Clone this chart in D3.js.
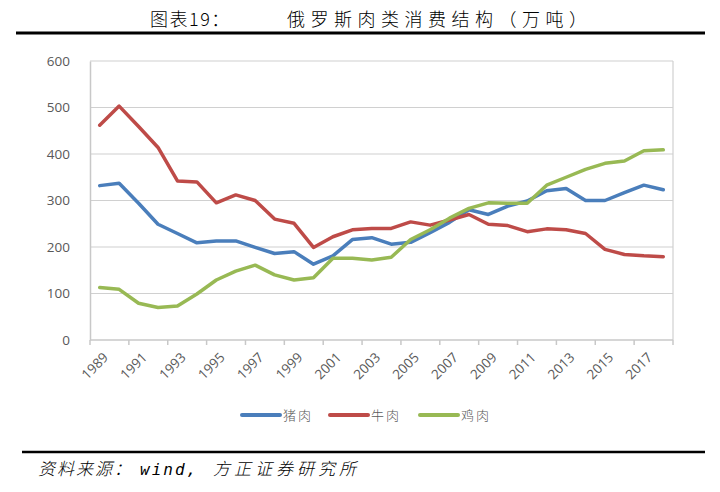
<!DOCTYPE html>
<html>
<head>
<meta charset="utf-8">
<script src="https://cdn.jsdelivr.net/npm/d3@7"></script>
<style>
  body { margin: 0; background: #fff; }
  svg { display: block; }
</style>
</head>
<body>
<svg id="chart" width="720" height="492"></svg>
<script>
const years = d3.range(1989, 2019).map(String);
const pork = [332,337,294,249,229,209,213,213,199,186,190,163,181,216,220,206,210,231,253,280,270,288,299,321,326,300,300,317,333,323];
const beef = [462,503,459,414,342,340,295,312,300,260,251,199,222,237,240,240,254,247,258,270,249,246,233,239,237,229,195,184,181,179];
const chicken = [113,109,79,70,73,99,129,148,161,140,129,134,176,176,172,178,216,237,262,283,295,294,294,333,350,367,380,385,407,409];
const seriesNames = ["猪肉", "牛肉", "鸡肉"];
const seriesColors = ["#4a7ebb", "#be4b48", "#98b954"];
const yTicks = [0, 100, 200, 300, 400, 500, 600];
const xLabelYears = years.filter((d, i) => i % 2 === 0);
const titleText = "图表19：";
const titleMain = "俄罗斯肉类消费结构（万吨）";
const sourceParts = ["资料来源：", "wind,", "方正证券研究所"];

const series = [pork, beef, chicken].map((vals, i) => ({ name: seriesNames[i], color: seriesColors[i], values: vals }));

const svg = d3.select("#chart");
const pLeft = 90, pRight = 673, pTop = 61, pBottom = 340;

const x = d3.scaleBand().domain(years).range([pLeft, pRight]).paddingInner(0).paddingOuter(0);
const y = d3.scaleLinear().domain([0, 600]).range([pBottom, pTop]);

const cjk = "'Noto Sans CJK SC', 'Noto Sans', sans-serif";
const latin = "'Open Sans', 'Liberation Sans', sans-serif";

// Title
svg.append("text").attr("x", 150).attr("y", 26)
  .style("font-family", cjk).style("font-size", "18px").style("font-weight", "300")
  .style("letter-spacing", "1.5px").attr("fill", "#000")
  .text(titleText);
svg.append("text").attr("x", 287).attr("y", 26)
  .style("font-family", cjk).style("font-size", "18px").style("font-weight", "300")
  .style("letter-spacing", "5.5px").attr("fill", "#000")
  .text(titleMain);
svg.append("line").attr("x1", 16).attr("x2", 705).attr("y1", 33).attr("y2", 33)
  .attr("stroke", "#000").attr("stroke-width", 3);

// Gridlines
svg.append("g").selectAll("line").data(yTicks.filter(d => d > 0)).join("line")
  .attr("x1", pLeft).attr("x2", pRight)
  .attr("y1", d => y(d)).attr("y2", d => y(d))
  .attr("stroke", "#d0d0d0").attr("stroke-width", 1.2);

// Plot border right
svg.append("line").attr("x1", pRight).attr("x2", pRight).attr("y1", pTop).attr("y2", pBottom)
  .attr("stroke", "#d0d0d0").attr("stroke-width", 1.2);

// Y axis
const yAxis = d3.axisLeft(y).tickValues(yTicks).tickSize(0).tickPadding(20);
const gy = svg.append("g").attr("transform", `translate(${pLeft},0)`).call(yAxis);
gy.select(".domain").attr("stroke", "#c8c8c8").attr("stroke-width", 1.5);
gy.selectAll("text").style("font-family", latin)
  .style("font-size", "13.5px").attr("fill", "#595959");

// X axis ticks (every 2 categories, at band boundaries)
const tickPositions = d3.range(0, years.length + 1, 2).map(i => pLeft + i * x.step());
const gx = svg.append("g");
gx.append("line").attr("x1", pLeft).attr("x2", pRight).attr("y1", pBottom).attr("y2", pBottom)
  .attr("stroke", "#c8c8c8").attr("stroke-width", 1.5);
gx.selectAll("line.tick").data(tickPositions).join("line").attr("class", "tick")
  .attr("x1", d => d).attr("x2", d => d).attr("y1", pBottom).attr("y2", pBottom + 5)
  .attr("stroke", "#c8c8c8").attr("stroke-width", 1.5);
gx.selectAll("text").data(xLabelYears).join("text")
  .attr("transform", d => `translate(${x(d) + x.bandwidth() / 2 + 6},${pBottom + 15}) rotate(-45)`)
  .attr("text-anchor", "end").attr("dy", "0.35em")
  .style("font-family", latin)
  .style("font-size", "13.5px").attr("fill", "#595959")
  .text(d => d);

// Lines
const line = d3.line().x((d, i) => x(years[i]) + x.bandwidth() / 2).y(d => y(d));
svg.append("g").selectAll("path").data(series).join("path")
  .attr("d", d => line(d.values))
  .attr("fill", "none").attr("stroke", d => d.color)
  .attr("stroke-width", 3.5).attr("stroke-linejoin", "round").attr("stroke-linecap", "round");

// Legend
const legendX = [242, 330, 420];
const lg = svg.append("g");
series.forEach((s, i) => {
  lg.append("line").attr("x1", legendX[i]).attr("x2", legendX[i] + 38).attr("y1", 415).attr("y2", 415)
    .attr("stroke", s.color).attr("stroke-width", 4).attr("stroke-linecap", "round");
  lg.append("text").attr("x", legendX[i] + 41).attr("y", 420)
    .style("font-family", cjk).style("font-size", "13px").style("font-weight", "300")
    .style("letter-spacing", "2px")
    .attr("fill", "#595959").text(s.name);
});

// Source
svg.append("line").attr("x1", 22).attr("x2", 705).attr("y1", 452).attr("y2", 452)
  .attr("stroke", "#000").attr("stroke-width", 2.5);
const src = svg.append("text").attr("y", 475)
  .style("font-family", cjk).style("font-size", "17px").style("font-style", "italic")
  .style("font-weight", "300").attr("fill", "#000");
src.append("tspan").attr("x", 38).style("letter-spacing", "2px").text(sourceParts[0]);
src.append("tspan").attr("x", 140).style("font-family", "'DejaVu Sans Mono', monospace")
  .style("font-size", "16px").style("letter-spacing", "2px").style("font-weight", "400").text(sourceParts[1]);
src.append("tspan").attr("x", 213).style("letter-spacing", "4px").text(sourceParts[2]);
</script>
</body>
</html>
